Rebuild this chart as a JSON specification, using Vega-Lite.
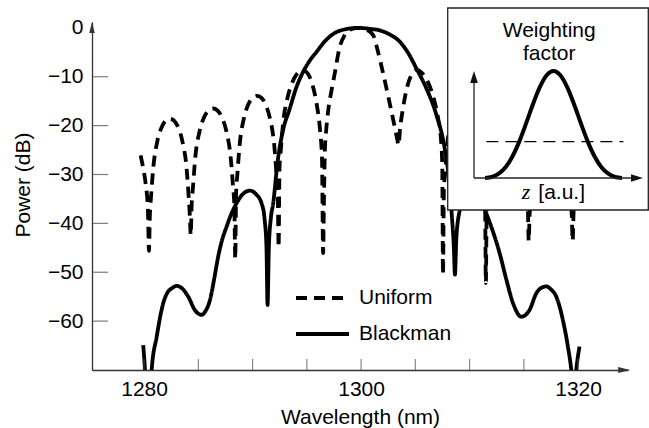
{
  "$schema": "https://vega.github.io/schema/vega-lite/v6.json",
  "width": 536,
  "height": 348,
  "autosize": {"type": "none"},
  "padding": {"left": 92, "top": 22, "right": 21, "bottom": 58},
  "background": "white",
  "config": {
    "font": "Liberation Sans",
    "view": {"stroke": null},
    "axis": {
      "labelFont": "Liberation Sans", "titleFont": "Liberation Sans",
      "labelFontSize": 21, "titleFontSize": 21, "titleFontWeight": "normal",
      "labelColor": "black", "titleColor": "black",
      "domainColor": "#333", "domainWidth": 1.3,
      "grid": false, "labelFlush": false, "labelOverlap": false
    },
    "text": {"font": "Liberation Sans"}
  },
  "datasets": {
    "spectra": [
      {"grating": "Uniform", "wavelength": 1279.68, "power": -26.1},
      {"grating": "Uniform", "wavelength": 1279.9, "power": -28.5},
      {"grating": "Uniform", "wavelength": 1280.15, "power": -32},
      {"grating": "Uniform", "wavelength": 1280.35, "power": -37},
      {"grating": "Uniform", "wavelength": 1280.45, "power": -45.6},
      {"grating": "Uniform", "wavelength": 1280.53, "power": -38.6},
      {"grating": "Uniform", "wavelength": 1280.64, "power": -34.6},
      {"grating": "Uniform", "wavelength": 1280.84, "power": -28.8},
      {"grating": "Uniform", "wavelength": 1281.22, "power": -23.2},
      {"grating": "Uniform", "wavelength": 1281.61, "power": -20.4},
      {"grating": "Uniform", "wavelength": 1281.99, "power": -19.0},
      {"grating": "Uniform", "wavelength": 1282.38, "power": -18.6},
      {"grating": "Uniform", "wavelength": 1282.76, "power": -19.0},
      {"grating": "Uniform", "wavelength": 1283.15, "power": -20.4},
      {"grating": "Uniform", "wavelength": 1283.53, "power": -23.2},
      {"grating": "Uniform", "wavelength": 1283.92, "power": -28.8},
      {"grating": "Uniform", "wavelength": 1284.11, "power": -34.6},
      {"grating": "Uniform", "wavelength": 1284.22, "power": -38.6},
      {"grating": "Uniform", "wavelength": 1284.3, "power": -42.4},
      {"grating": "Uniform", "wavelength": 1284.38, "power": -36.5},
      {"grating": "Uniform", "wavelength": 1284.51, "power": -32.5},
      {"grating": "Uniform", "wavelength": 1284.71, "power": -26.7},
      {"grating": "Uniform", "wavelength": 1285.12, "power": -21.1},
      {"grating": "Uniform", "wavelength": 1285.53, "power": -18.3},
      {"grating": "Uniform", "wavelength": 1285.94, "power": -16.9},
      {"grating": "Uniform", "wavelength": 1286.35, "power": -16.5},
      {"grating": "Uniform", "wavelength": 1286.76, "power": -16.9},
      {"grating": "Uniform", "wavelength": 1287.17, "power": -18.3},
      {"grating": "Uniform", "wavelength": 1287.58, "power": -21.1},
      {"grating": "Uniform", "wavelength": 1287.99, "power": -26.7},
      {"grating": "Uniform", "wavelength": 1288.2, "power": -32.5},
      {"grating": "Uniform", "wavelength": 1288.32, "power": -36.5},
      {"grating": "Uniform", "wavelength": 1288.4, "power": -47.3},
      {"grating": "Uniform", "wavelength": 1288.48, "power": -33.9},
      {"grating": "Uniform", "wavelength": 1288.6, "power": -29.9},
      {"grating": "Uniform", "wavelength": 1288.8, "power": -24.1},
      {"grating": "Uniform", "wavelength": 1289.2, "power": -18.5},
      {"grating": "Uniform", "wavelength": 1289.6, "power": -15.7},
      {"grating": "Uniform", "wavelength": 1290.0, "power": -14.3},
      {"grating": "Uniform", "wavelength": 1290.4, "power": -13.9},
      {"grating": "Uniform", "wavelength": 1290.8, "power": -14.3},
      {"grating": "Uniform", "wavelength": 1291.2, "power": -15.7},
      {"grating": "Uniform", "wavelength": 1291.6, "power": -18.5},
      {"grating": "Uniform", "wavelength": 1292.0, "power": -24.1},
      {"grating": "Uniform", "wavelength": 1292.2, "power": -29.9},
      {"grating": "Uniform", "wavelength": 1292.32, "power": -33.9},
      {"grating": "Uniform", "wavelength": 1292.4, "power": -44.9},
      {"grating": "Uniform", "wavelength": 1292.48, "power": -28.8},
      {"grating": "Uniform", "wavelength": 1292.61, "power": -24.8},
      {"grating": "Uniform", "wavelength": 1292.81, "power": -19.5},
      {"grating": "Uniform", "wavelength": 1293.2, "power": -14.5},
      {"grating": "Uniform", "wavelength": 1293.6, "power": -11.5},
      {"grating": "Uniform", "wavelength": 1294.0, "power": -9.7},
      {"grating": "Uniform", "wavelength": 1294.4, "power": -8.9},
      {"grating": "Uniform", "wavelength": 1294.75, "power": -8.8},
      {"grating": "Uniform", "wavelength": 1295.1, "power": -9.4},
      {"grating": "Uniform", "wavelength": 1295.5, "power": -11.5},
      {"grating": "Uniform", "wavelength": 1295.9, "power": -15.5},
      {"grating": "Uniform", "wavelength": 1296.2, "power": -20.5},
      {"grating": "Uniform", "wavelength": 1296.4, "power": -27},
      {"grating": "Uniform", "wavelength": 1296.5, "power": -46.1},
      {"grating": "Uniform", "wavelength": 1296.58, "power": -35},
      {"grating": "Uniform", "wavelength": 1296.66, "power": -25.3},
      {"grating": "Uniform", "wavelength": 1296.8, "power": -20.5},
      {"grating": "Uniform", "wavelength": 1296.96, "power": -17.1},
      {"grating": "Uniform", "wavelength": 1297.3, "power": -12.5},
      {"grating": "Uniform", "wavelength": 1297.6, "power": -9.0},
      {"grating": "Uniform", "wavelength": 1298.0, "power": -4.2},
      {"grating": "Uniform", "wavelength": 1298.5, "power": -1.45},
      {"grating": "Uniform", "wavelength": 1299.1, "power": -0.3},
      {"grating": "Uniform", "wavelength": 1299.72, "power": 0},
      {"grating": "Uniform", "wavelength": 1300.4, "power": -0.3},
      {"grating": "Uniform", "wavelength": 1301.1, "power": -1.45},
      {"grating": "Uniform", "wavelength": 1301.56, "power": -4.9},
      {"grating": "Uniform", "wavelength": 1302.0, "power": -9.0},
      {"grating": "Uniform", "wavelength": 1302.4, "power": -13.0},
      {"grating": "Uniform", "wavelength": 1302.8, "power": -17.1},
      {"grating": "Uniform", "wavelength": 1303.1, "power": -20.3},
      {"grating": "Uniform", "wavelength": 1303.35, "power": -23},
      {"grating": "Uniform", "wavelength": 1303.45, "power": -24},
      {"grating": "Uniform", "wavelength": 1303.6, "power": -20.5},
      {"grating": "Uniform", "wavelength": 1303.86, "power": -16.5},
      {"grating": "Uniform", "wavelength": 1304.2, "power": -12.5},
      {"grating": "Uniform", "wavelength": 1304.6, "power": -9.8},
      {"grating": "Uniform", "wavelength": 1305.1, "power": -8.6},
      {"grating": "Uniform", "wavelength": 1305.6, "power": -9.2},
      {"grating": "Uniform", "wavelength": 1306.1, "power": -10.8},
      {"grating": "Uniform", "wavelength": 1306.5, "power": -13.0},
      {"grating": "Uniform", "wavelength": 1306.8, "power": -15.3},
      {"grating": "Uniform", "wavelength": 1307.1, "power": -18.5},
      {"grating": "Uniform", "wavelength": 1307.35, "power": -22.5},
      {"grating": "Uniform", "wavelength": 1307.48, "power": -28},
      {"grating": "Uniform", "wavelength": 1307.55, "power": -50.5},
      {"grating": "Uniform", "wavelength": 1307.63, "power": -33.5},
      {"grating": "Uniform", "wavelength": 1307.75, "power": -29.5},
      {"grating": "Uniform", "wavelength": 1307.95, "power": -23.7},
      {"grating": "Uniform", "wavelength": 1308.34, "power": -18.1},
      {"grating": "Uniform", "wavelength": 1308.74, "power": -15.3},
      {"grating": "Uniform", "wavelength": 1309.13, "power": -13.9},
      {"grating": "Uniform", "wavelength": 1309.53, "power": -13.5},
      {"grating": "Uniform", "wavelength": 1309.92, "power": -13.9},
      {"grating": "Uniform", "wavelength": 1310.32, "power": -15.3},
      {"grating": "Uniform", "wavelength": 1310.71, "power": -18.1},
      {"grating": "Uniform", "wavelength": 1311.11, "power": -23.7},
      {"grating": "Uniform", "wavelength": 1311.3, "power": -29.5},
      {"grating": "Uniform", "wavelength": 1311.42, "power": -33.5},
      {"grating": "Uniform", "wavelength": 1311.5, "power": -52.2},
      {"grating": "Uniform", "wavelength": 1311.58, "power": -36.5},
      {"grating": "Uniform", "wavelength": 1311.7, "power": -32.5},
      {"grating": "Uniform", "wavelength": 1311.9, "power": -26.7},
      {"grating": "Uniform", "wavelength": 1312.29, "power": -21.1},
      {"grating": "Uniform", "wavelength": 1312.69, "power": -18.3},
      {"grating": "Uniform", "wavelength": 1313.08, "power": -16.9},
      {"grating": "Uniform", "wavelength": 1313.48, "power": -16.5},
      {"grating": "Uniform", "wavelength": 1313.87, "power": -16.9},
      {"grating": "Uniform", "wavelength": 1314.27, "power": -18.3},
      {"grating": "Uniform", "wavelength": 1314.66, "power": -21.1},
      {"grating": "Uniform", "wavelength": 1315.06, "power": -26.7},
      {"grating": "Uniform", "wavelength": 1315.25, "power": -32.5},
      {"grating": "Uniform", "wavelength": 1315.37, "power": -36.5},
      {"grating": "Uniform", "wavelength": 1315.45, "power": -43.6},
      {"grating": "Uniform", "wavelength": 1315.53, "power": -38.5},
      {"grating": "Uniform", "wavelength": 1315.65, "power": -34.5},
      {"grating": "Uniform", "wavelength": 1315.86, "power": -28.7},
      {"grating": "Uniform", "wavelength": 1316.26, "power": -23.1},
      {"grating": "Uniform", "wavelength": 1316.67, "power": -20.3},
      {"grating": "Uniform", "wavelength": 1317.07, "power": -18.9},
      {"grating": "Uniform", "wavelength": 1317.48, "power": -18.5},
      {"grating": "Uniform", "wavelength": 1317.88, "power": -18.9},
      {"grating": "Uniform", "wavelength": 1318.29, "power": -20.3},
      {"grating": "Uniform", "wavelength": 1318.69, "power": -23.1},
      {"grating": "Uniform", "wavelength": 1319.1, "power": -28.7},
      {"grating": "Uniform", "wavelength": 1319.3, "power": -34.5},
      {"grating": "Uniform", "wavelength": 1319.42, "power": -38.5},
      {"grating": "Uniform", "wavelength": 1319.5, "power": -43.6},
      {"grating": "Uniform", "wavelength": 1319.58, "power": -38},
      {"grating": "Uniform", "wavelength": 1319.75, "power": -33},
      {"grating": "Uniform", "wavelength": 1320.05, "power": -28.5},
      {"grating": "Uniform", "wavelength": 1320.3, "power": -26.1},
      {"grating": "Blackman", "wavelength": 1279.92, "power": -64.9},
      {"grating": "Blackman", "wavelength": 1280.08, "power": -70},
      {"grating": "Blackman", "wavelength": 1280.25, "power": -78},
      {"grating": "Blackman", "wavelength": 1280.4, "power": -82},
      {"grating": "Blackman", "wavelength": 1280.55, "power": -77},
      {"grating": "Blackman", "wavelength": 1280.7, "power": -70},
      {"grating": "Blackman", "wavelength": 1281.16, "power": -63.2},
      {"grating": "Blackman", "wavelength": 1281.77, "power": -56.3},
      {"grating": "Blackman", "wavelength": 1282.2, "power": -54.0},
      {"grating": "Blackman", "wavelength": 1282.54, "power": -53.3},
      {"grating": "Blackman", "wavelength": 1283.0, "power": -52.8},
      {"grating": "Blackman", "wavelength": 1283.5, "power": -53.3},
      {"grating": "Blackman", "wavelength": 1284.07, "power": -55.0},
      {"grating": "Blackman", "wavelength": 1284.7, "power": -57.8},
      {"grating": "Blackman", "wavelength": 1285.3, "power": -58.7},
      {"grating": "Blackman", "wavelength": 1285.7, "power": -57.8},
      {"grating": "Blackman", "wavelength": 1286.07, "power": -55.7},
      {"grating": "Blackman", "wavelength": 1286.45, "power": -51.5},
      {"grating": "Blackman", "wavelength": 1286.83, "power": -46.8},
      {"grating": "Blackman", "wavelength": 1287.2, "power": -43.3},
      {"grating": "Blackman", "wavelength": 1287.6, "power": -40.7},
      {"grating": "Blackman", "wavelength": 1288.0, "power": -38.3},
      {"grating": "Blackman", "wavelength": 1288.52, "power": -35.9},
      {"grating": "Blackman", "wavelength": 1289.1, "power": -34.0},
      {"grating": "Blackman", "wavelength": 1289.75, "power": -33.3},
      {"grating": "Blackman", "wavelength": 1290.3, "power": -34.0},
      {"grating": "Blackman", "wavelength": 1290.83, "power": -35.9},
      {"grating": "Blackman", "wavelength": 1291.1, "power": -39},
      {"grating": "Blackman", "wavelength": 1291.28, "power": -45},
      {"grating": "Blackman", "wavelength": 1291.38, "power": -56.7},
      {"grating": "Blackman", "wavelength": 1291.5, "power": -45},
      {"grating": "Blackman", "wavelength": 1291.68, "power": -39},
      {"grating": "Blackman", "wavelength": 1291.9, "power": -35.9},
      {"grating": "Blackman", "wavelength": 1292.3, "power": -27.5},
      {"grating": "Blackman", "wavelength": 1292.8, "power": -21},
      {"grating": "Blackman", "wavelength": 1293.43, "power": -16.5},
      {"grating": "Blackman", "wavelength": 1294.0, "power": -12.4},
      {"grating": "Blackman", "wavelength": 1294.66, "power": -9.0},
      {"grating": "Blackman", "wavelength": 1295.3, "power": -6.6},
      {"grating": "Blackman", "wavelength": 1295.9, "power": -4.9},
      {"grating": "Blackman", "wavelength": 1296.6, "power": -2.9},
      {"grating": "Blackman", "wavelength": 1297.4, "power": -1.3},
      {"grating": "Blackman", "wavelength": 1298.5, "power": -0.3},
      {"grating": "Blackman", "wavelength": 1299.72, "power": 0},
      {"grating": "Blackman", "wavelength": 1300.8, "power": -0.2},
      {"grating": "Blackman", "wavelength": 1301.7, "power": -0.5},
      {"grating": "Blackman", "wavelength": 1302.6, "power": -1.3},
      {"grating": "Blackman", "wavelength": 1303.55, "power": -2.8},
      {"grating": "Blackman", "wavelength": 1304.3, "power": -5.0},
      {"grating": "Blackman", "wavelength": 1305.1, "power": -8.3},
      {"grating": "Blackman", "wavelength": 1306.0, "power": -12.3},
      {"grating": "Blackman", "wavelength": 1306.94, "power": -17.8},
      {"grating": "Blackman", "wavelength": 1307.7, "power": -24.6},
      {"grating": "Blackman", "wavelength": 1308.1, "power": -31},
      {"grating": "Blackman", "wavelength": 1308.35, "power": -38},
      {"grating": "Blackman", "wavelength": 1308.55, "power": -45},
      {"grating": "Blackman", "wavelength": 1308.65, "power": -50.5},
      {"grating": "Blackman", "wavelength": 1308.78, "power": -43},
      {"grating": "Blackman", "wavelength": 1309.1, "power": -37.2},
      {"grating": "Blackman", "wavelength": 1309.5, "power": -34.5},
      {"grating": "Blackman", "wavelength": 1310.2, "power": -33.3},
      {"grating": "Blackman", "wavelength": 1310.9, "power": -34.5},
      {"grating": "Blackman", "wavelength": 1311.4, "power": -37.2},
      {"grating": "Blackman", "wavelength": 1312.0, "power": -40.7},
      {"grating": "Blackman", "wavelength": 1312.77, "power": -46.1},
      {"grating": "Blackman", "wavelength": 1313.4, "power": -51.6},
      {"grating": "Blackman", "wavelength": 1314.0, "power": -56.3},
      {"grating": "Blackman", "wavelength": 1314.77, "power": -59.1},
      {"grating": "Blackman", "wavelength": 1315.53, "power": -57.7},
      {"grating": "Blackman", "wavelength": 1316.15, "power": -54.3},
      {"grating": "Blackman", "wavelength": 1316.6, "power": -53.2},
      {"grating": "Blackman", "wavelength": 1317.07, "power": -52.9},
      {"grating": "Blackman", "wavelength": 1317.5, "power": -53.5},
      {"grating": "Blackman", "wavelength": 1317.99, "power": -55.0},
      {"grating": "Blackman", "wavelength": 1318.6, "power": -59.8},
      {"grating": "Blackman", "wavelength": 1319.06, "power": -65.2},
      {"grating": "Blackman", "wavelength": 1319.37, "power": -70},
      {"grating": "Blackman", "wavelength": 1319.6, "power": -76},
      {"grating": "Blackman", "wavelength": 1319.83, "power": -70},
      {"grating": "Blackman", "wavelength": 1320.13, "power": -65.2}
    ],
    "xTicks": [
      {"wavelength": 1280}, {"wavelength": 1285}, {"wavelength": 1290},
      {"wavelength": 1295}, {"wavelength": 1300}, {"wavelength": 1305},
      {"wavelength": 1310}, {"wavelength": 1315}, {"wavelength": 1320}
    ],
    "yTicks": [
      {"power": -60}, {"power": -50}, {"power": -40},
      {"power": -30}, {"power": -20}, {"power": -10}
    ],
    "window": [
      {"z": 0, "w": 0}, {"z": 0.05, "w": 0.009}, {"z": 0.1, "w": 0.04},
      {"z": 0.15, "w": 0.101}, {"z": 0.2, "w": 0.201}, {"z": 0.25, "w": 0.34},
      {"z": 0.3, "w": 0.51}, {"z": 0.35, "w": 0.689}, {"z": 0.4, "w": 0.849},
      {"z": 0.45, "w": 0.96}, {"z": 0.5, "w": 1.0}, {"z": 0.55, "w": 0.96},
      {"z": 0.6, "w": 0.849}, {"z": 0.65, "w": 0.689}, {"z": 0.7, "w": 0.51},
      {"z": 0.75, "w": 0.34}, {"z": 0.8, "w": 0.201}, {"z": 0.85, "w": 0.101},
      {"z": 0.9, "w": 0.04}, {"z": 0.95, "w": 0.009}, {"z": 1.0, "w": 0}
    ],
    "uniformWeight": [
      {"z": 0.01, "w": 0.34}, {"z": 1.01, "w": 0.34}
    ]
  },
  "layer": [
    {
      "layer": [
        {
          "data": {"name": "spectra"},
          "mark": {"type": "line", "color": "black", "strokeWidth": 3.8, "clip": true, "strokeCap": "butt", "interpolate": "monotone"},
          "encoding": {
            "x": {
              "field": "wavelength", "type": "quantitative",
              "scale": {"domain": [1275.2, 1324.6], "nice": false, "zero": false},
              "axis": {
                "title": "Wavelength (nm)",
                "values": [1280, 1300, 1320],
                "format": "d",
                "ticks": false, "tickSize": 0, "labelPadding": 8,
                "titleY": 53, "titleBaseline": "alphabetic"
              }
            },
            "y": {
              "field": "power", "type": "quantitative",
              "scale": {"domain": [-70, 1.2], "nice": false, "zero": false},
              "axis": {
                "title": "Power (dB)",
                "values": [-60, -50, -40, -30, -20, -10, 0],
                "format": "d",
                "ticks": false, "tickSize": 0, "labelPadding": 9,
                "titleX": -63, "titleY": 162.5, "titleAngle": 270,
                "titleAlign": "center", "titleBaseline": "alphabetic"
              }
            },
            "strokeDash": {
              "field": "grating", "type": "nominal",
              "scale": {"domain": ["Uniform", "Blackman"], "range": [[11, 7], [1, 0]]},
              "legend": {
                "orient": "none", "legendX": 202, "legendY": 258, "title": null,
                "symbolType": "stroke", "symbolSize": 2809, "symbolStrokeWidth": 4,
                "symbolStrokeColor": "black", "labelFontSize": 21, "labelFont": "Liberation Sans",
                "labelColor": "black", "labelOffset": 8, "clipHeight": 36,
                "padding": 0, "rowPadding": 0
              }
            }
          }
        },
        {
          "data": {"name": "xTicks"},
          "mark": {"type": "tick", "orient": "vertical", "color": "#555", "thickness": 1.2, "size": 11, "yOffset": -5.5},
          "encoding": {
            "x": {"field": "wavelength", "type": "quantitative"},
            "y": {"datum": -70}
          }
        },
        {
          "data": {"name": "yTicks"},
          "mark": {"type": "tick", "orient": "horizontal", "color": "#444", "thickness": 1.2, "size": 16, "xOffset": 8},
          "encoding": {
            "y": {"field": "power", "type": "quantitative"},
            "x": {"datum": 1275.2}
          }
        },
        {
          "data": {"values": [{}]},
          "mark": {"type": "point", "shape": "M0,0L0.25,1L-0.25,1Z", "size": 484, "filled": true, "color": "#333", "opacity": 1},
          "encoding": {"x": {"datum": 1275.2}, "y": {"datum": 1.2}}
        },
        {
          "data": {"values": [{}]},
          "mark": {"type": "point", "shape": "M0,0L-1,-0.25L-1,0.25Z", "size": 576, "filled": true, "color": "#333", "opacity": 1},
          "encoding": {"x": {"datum": 1324.8}, "y": {"datum": -70}}
        }
      ]
    },
    {
      "layer": [
        {
          "data": {"values": [{}]},
          "mark": {"type": "rect", "fill": "white", "stroke": "#222", "strokeWidth": 1.3},
          "encoding": {
            "x": {"datum": -0.2722, "type": "quantitative", "scale": {"domain": [-2.8686, 1.0438], "nice": false, "zero": false}, "axis": null},
            "x2": {"datum": 1.192},
            "y": {"datum": 1.5888, "type": "quantitative", "scale": {"domain": [-1.7944, 1.4579], "nice": false, "zero": false}, "axis": null},
            "y2": {"datum": -0.299}
          }
        },
        {
          "data": {"name": "uniformWeight"},
          "mark": {"type": "line", "color": "black", "strokeWidth": 1.3, "strokeDash": [12, 7]},
          "encoding": {
            "x": {"field": "z", "type": "quantitative", "axis": null},
            "y": {"field": "w", "type": "quantitative", "axis": null}
          }
        },
        {
          "data": {"name": "window"},
          "mark": {"type": "line", "color": "black", "strokeWidth": 4, "interpolate": "monotone"},
          "encoding": {
            "x": {"field": "z", "type": "quantitative", "axis": null},
            "y": {"field": "w", "type": "quantitative", "axis": null}
          }
        },
        {
          "data": {"values": [{}]},
          "mark": {"type": "rule", "color": "#222", "strokeWidth": 1.3},
          "encoding": {"x": {"datum": -0.0803, "axis": null}, "y": {"datum": 0, "axis": null}, "y2": {"datum": 0.95}}
        },
        {
          "data": {"values": [{}]},
          "mark": {"type": "rule", "color": "#222", "strokeWidth": 1.3},
          "encoding": {"x": {"datum": -0.0803, "axis": null}, "x2": {"datum": 1.12}, "y": {"datum": 0, "axis": null}}
        },
        {
          "data": {"values": [{}]},
          "mark": {"type": "point", "shape": "M0,0L0.32,1L-0.32,1Z", "size": 576, "filled": true, "color": "#111", "opacity": 1},
          "encoding": {"x": {"datum": -0.0803, "axis": null}, "y": {"datum": 1.0, "axis": null}}
        },
        {
          "data": {"values": [{}]},
          "mark": {"type": "point", "shape": "M0,0L-1,-0.32L-1,0.32Z", "size": 576, "filled": true, "color": "#111", "opacity": 1},
          "encoding": {"x": {"datum": 1.1533, "axis": null}, "y": {"datum": 0, "axis": null}}
        },
        {
          "data": {"values": [{}]},
          "mark": {"type": "text", "fontSize": 21, "font": "Liberation Sans", "align": "center", "baseline": "alphabetic", "lineHeight": 23.3, "color": "black"},
          "encoding": {"x": {"datum": 0.4686, "axis": null}, "y": {"datum": 1.3206, "axis": null}, "text": {"value": ["Weighting", "factor"]}}
        },
        {
          "data": {"values": [{}]},
          "mark": {"type": "text", "fontSize": 22, "font": "Liberation Serif", "fontStyle": "italic", "align": "center", "baseline": "alphabetic", "color": "black"},
          "encoding": {"x": {"datum": 0.2993, "axis": null}, "y": {"datum": -0.199, "axis": null}, "text": {"value": "z"}}
        },
        {
          "data": {"values": [{}]},
          "mark": {"type": "text", "fontSize": 21, "font": "Liberation Sans", "align": "left", "baseline": "alphabetic", "color": "black"},
          "encoding": {"x": {"datum": 0.3891, "axis": null}, "y": {"datum": -0.199, "axis": null}, "text": {"value": "[a.u.]"}}
        }
      ]
    }
  ],
  "resolve": {"scale": {"x": "independent", "y": "independent"}}
}
